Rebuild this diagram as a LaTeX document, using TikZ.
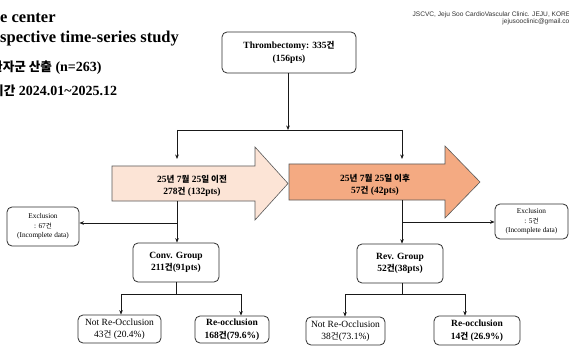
\documentclass[tikz,border=0pt]{standalone}
\usepackage{fontspec}
\setmainfont{Liberation Serif}
\newfontfamily\krfont{Noto Sans CJK KR}[Scale=0.9]
\newfontfamily\webfont{Liberation Sans}
\newcommand\kr[1]{{\krfont #1}}
\usetikzlibrary{arrows.meta}
\definecolor{edge}{HTML}{303030}
\definecolor{preFill}{HTML}{FCE4D6}
\definecolor{postFill}{HTML}{F4AA82}
\tikzset{
  box/.style={draw=edge, line width=0.8pt, rounded corners=5pt, fill=white,
    inner sep=0pt, align=center},
  boxtext/.style={font=\fontsize{9.5}{12.5}\selectfont},
  smalltext/.style={font=\fontsize{7.3}{9.5}\selectfont},
  conn/.style={draw=black!90, line width=0.7pt, -{Stealth[length=4.5pt,width=3.6pt]}},
  plain/.style={draw=black!90, line width=0.7pt},
  blockarrow/.style={draw=edge!80, line width=0.6pt},
  title/.style={anchor=base west, inner sep=0pt, font=\fontsize{16.5}{20}\selectfont\bfseries},
  subtitle/.style={anchor=base west, inner sep=0pt, font=\fontsize{14}{17}\selectfont\bfseries},
}
\begin{document}
\begin{tikzpicture}[x=1pt, y=-1pt]
\clip (0,0) rectangle (569,347);
\fill[white] (0,0) rectangle (569,347);

% heading (cut at the left edge of the slide)
\node[title] (h1) at (0,23) {e center};
\node[title] (h2) at (0,43) {spective time-series study};
\node[subtitle] (h3) at (-9,72) {\kr{환자군 산출} (n=263)};
\node[subtitle] (h4) at (-8,96) {\kr{기간} 2024.01\textasciitilde 2025.12};

% clinic credit, top right (runs past the right edge)
\node[anchor=base east, inner sep=0pt, font=\webfont\fontsize{6.6}{8}\selectfont, text=black!80]
  (credit1) at (575,17) {JSCVC, Jeju Soo CardioVascular Clinic. JEJU, KOREA};
\node[anchor=base east, inner sep=0pt, font=\webfont\fontsize{6.6}{8}\selectfont, text=black!80]
  (credit2) at (575,24) {jejusooclinic@gmail.com};

% block arrows for the two periods
\draw[blockarrow, fill=preFill] (112,166) -- (255,166) -- (255,147) -- (288,183.5)
  -- (255,220) -- (255,201) -- (112,201) -- cycle;
\draw[blockarrow, fill=postFill] (289,164) -- (445,164) -- (445,146) -- (480,182)
  -- (445,218) -- (445,200) -- (289,200) -- cycle;
\node[boxtext, font=\fontsize{9.5}{12.5}\selectfont\bfseries, align=center, inner sep=0pt]
  (pre) at (192,186) {25\kr{년} 7\kr{월} 25\kr{일 이전}\\278\kr{건} (132pts)};
\node[boxtext, font=\fontsize{9.5}{12.5}\selectfont\bfseries, align=center, inner sep=0pt]
  (post) at (375,185) {25\kr{년} 7\kr{월} 25\kr{일 이후}\\57\kr{건} (42pts)};

% boxes
\node[box, boxtext, font=\fontsize{9.5}{12.5}\selectfont\bfseries, minimum width=134pt, minimum height=41pt]
  (thr) at (289,52.5) {Thrombectomy: 335\kr{건}\\(156pts)};
\node[box, smalltext, minimum width=72pt, minimum height=39pt]
  (excl1) at (43,226.5) {Exclusion\\: 67\kr{건}\\(Incomplete data)};
\node[box, smalltext, minimum width=73pt, minimum height=35pt]
  (excl2) at (531.5,221.5) {Exclusion\\: 5\kr{건}\\(Incomplete data)};
\node[box, boxtext, font=\fontsize{9.5}{12.5}\selectfont\bfseries, minimum width=86pt, minimum height=39pt]
  (conv) at (176,262.5) {Conv. Group\\211\kr{건}(91pts)};
\node[box, boxtext, font=\fontsize{9.5}{12.5}\selectfont\bfseries, minimum width=86pt, minimum height=39pt]
  (rev) at (400,263.5) {Rev. Group\\52\kr{건}(38pts)};
\node[box, boxtext, minimum width=83pt, minimum height=28pt]
  (not1) at (119.5,329) {Not Re-Occlusion\\43\kr{건} (20.4\%)};
\node[box, boxtext, font=\fontsize{9.5}{12.5}\selectfont\bfseries, minimum width=74pt, minimum height=27pt]
  (re1) at (232,329.5) {Re-occlusion\\168\kr{건}(79.6\%)};
\node[box, boxtext, minimum width=79pt, minimum height=28pt]
  (not2) at (345.5,331) {Not Re-Occlusion\\38\kr{건}(73.1\%)};
\node[box, boxtext, font=\fontsize{9.5}{12.5}\selectfont\bfseries, minimum width=86pt, minimum height=29pt]
  (re2) at (477,330.5) {Re-occlusion\\14\kr{건} (26.9\%)};

% junction points
\coordinate (split) at (288,130);
\coordinate (jl) at (177,130);
\coordinate (jr) at (402,130);
\coordinate (inL) at (177,159);
\coordinate (inR) at (402,159);
\coordinate (outL) at (177,201);
\coordinate (outR) at (402,200);
\coordinate (bl) at (177,223);
\coordinate (br) at (402,222);
\coordinate (cl) at (176,294);
\coordinate (cr) at (402,294);
\coordinate (cl1) at (121,294);
\coordinate (cl2) at (241,294);
\coordinate (cr1) at (345,294);
\coordinate (cr2) at (465,294);

% connectors
\draw[conn] (thr.south -| split) -- (split);
\draw[plain] (jl) -- (jr);
\draw[conn] (jl) -- (inL);
\draw[conn] (jr) -- (inR);
\draw[conn] (outL) -- (outL |- conv.north);
\draw[conn] (bl) -- (bl -| excl1.east);
\draw[conn] (outR) -- (outR |- rev.north);
\draw[conn] (br) -- (br -| excl2.west);
\draw[plain] (conv.south -| cl) -- (cl);
\draw[plain] (cl1) -- (cl2);
\draw[conn] (cl1) -- (cl1 |- not1.north);
\draw[conn] (cl2) -- (cl2 |- re1.north);
\draw[plain] (rev.south -| cr) -- (cr);
\draw[plain] (cr1) -- (cr2);
\draw[conn] (cr1) -- (cr1 |- not2.north);
\draw[conn] (cr2) -- (cr2 |- re2.north);
\end{tikzpicture}
\end{document}
